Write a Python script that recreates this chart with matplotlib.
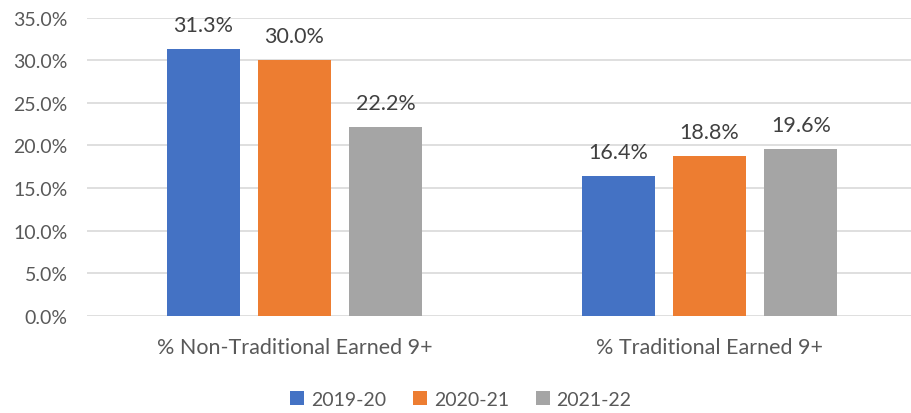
import numpy as np
import matplotlib.pyplot as plt

categories = ["% Non-Traditional Earned 9+", "% Traditional Earned 9+"]
years = ["2019-20", "2020-21", "2021-22"]
values = {
    "2019-20": [31.3, 16.4],
    "2020-21": [30.0, 18.8],
    "2021-22": [22.2, 19.6],
}
colors = ["#4472C4", "#ED7D31", "#A5A5A5"]
yticks = [0, 5, 10, 15, 20, 25, 30, 35]

plt.rcParams['font.family'] = ['Lato', 'DejaVu Sans']
text_color = "#595959"

fig = plt.figure(figsize=(9.11, 4.14), dpi=100)
ax = fig.add_axes([0.0955, 0.235, 0.9045, 0.72])

x = np.arange(len(categories))
width = 0.176
step = 0.22
for i, yr in enumerate(years):
    pos = x + (i - 1) * step
    bars = ax.bar(pos, values[yr], width, color=colors[i], label=yr, zorder=3)
    for b, v in zip(bars, values[yr]):
        ax.annotate(f"{v:.1f}%", (b.get_x() + b.get_width() / 2, v),
                    xytext=(0, 10), textcoords="offset points",
                    ha="center", va="bottom", fontsize=15.5, color="#404040")

ax.set_xlim(-0.5, -0.5 + 824 / 415)
ax.set_ylim(0, 35)
ax.set_yticks(yticks)
ax.set_yticklabels([f"{t:.1f}%" for t in yticks])
ax.set_xticks(x)
ax.set_xticklabels(categories, fontsize=15.5)
ax.tick_params(axis="both", length=0, labelsize=14, colors=text_color)
ax.tick_params(axis="x", labelsize=15.5, pad=15)
ax.tick_params(axis="y", pad=14)
ax.grid(axis="y", color="#D9D9D9", linewidth=1.2, zorder=0)
for s in ax.spines.values():
    s.set_visible(False)

fig.legend(loc="center", bbox_to_anchor=(0.506, 0.033), ncol=3, frameon=False,
           fontsize=14, labelcolor=text_color, handlelength=0.7, handleheight=0.7,
           handletextpad=0.35, columnspacing=1.4)

fig.savefig("out.png", dpi=100)
